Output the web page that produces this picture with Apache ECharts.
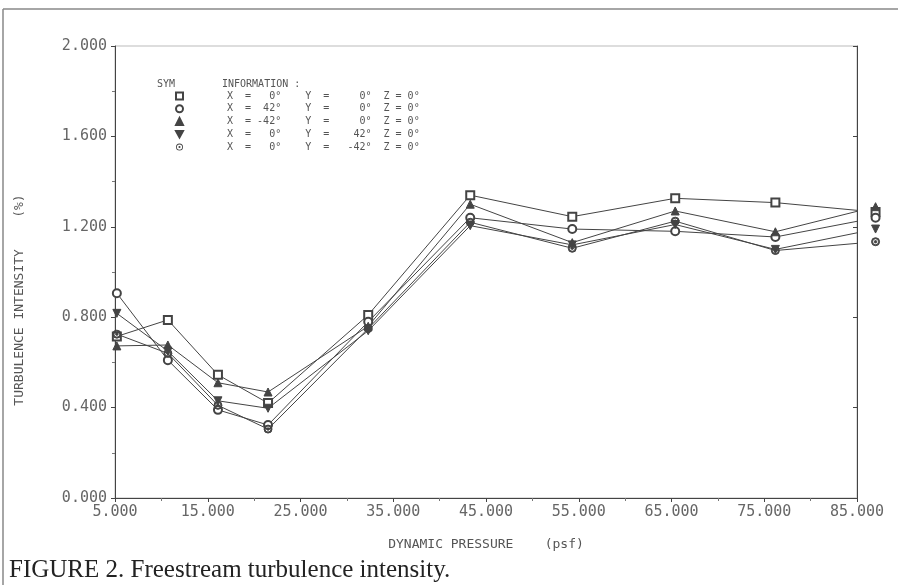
<!DOCTYPE html>
<html>
<head>
<meta charset="utf-8">
<script src="https://cdn.jsdelivr.net/npm/echarts@6/dist/echarts.min.js"></script>
<style>
  html, body { margin: 0; padding: 0; background: #fff; }
  #chart { width: 898px; height: 585px; }
</style>
</head>
<body>
<div id="chart"></div>
<script>
// dynamic pressure (psf) at each measuring point
const pressure = [5.2, 10.7, 16.1, 21.5, 32.3, 43.3, 54.3, 65.4, 76.2, 87.0];
// turbulence intensity (%) per probe position
const s00 = [0.715, 0.788, 0.545, 0.42, 0.81, 1.34, 1.245, 1.326, 1.307, 1.265];
const sXp42 = [0.906, 0.61, 0.39, 0.323, 0.78, 1.24, 1.19, 1.18, 1.155, 1.24];
const sXm42 = [0.673, 0.677, 0.51, 0.469, 0.76, 1.30, 1.13, 1.27, 1.178, 1.289];
const sYp42 = [0.817, 0.65, 0.43, 0.397, 0.74, 1.205, 1.12, 1.21, 1.10, 1.19];
const sYm42 = [0.725, 0.64, 0.41, 0.305, 0.75, 1.22, 1.105, 1.225, 1.095, 1.134];
const xTicks = [5, 15, 25, 35, 45, 55, 65, 75, 85];
const yTicks = [0, 0.4, 0.8, 1.2, 1.6, 2.0];

// legend rows "X = .. Y = .. Z = .."
const pad = (s, n) => (" ".repeat(n) + s).slice(-n);
const row = (x, y) => "X  = " + pad(x + "°", 4) + "    Y  =   " + pad(y + "°", 4) + "  Z = 0°";
const names = [row(0, 0), row(42, 0), row(-42, 0), row(0, 42), row(0, -42)];

const triDown = "path://M0,0 L10,0 L5,9 Z";
const circDot = "path://M0,-10 A10,10 0 1,1 0,10 A10,10 0 1,1 0,-10 Z M0,-7.5 A7.5,7.5 0 1,0 0,7.5 A7.5,7.5 0 1,0 0,-7.5 Z M0,-3 A3,3 0 1,1 0,3 A3,3 0 1,1 0,-3 Z";
const symbols = ["emptyRect", "emptyCircle", "triangle", triDown, circDot];
const values = [s00, sXp42, sXm42, sYp42, sYm42];

const mono = "DejaVu Sans Mono";
const ink = "#444";

let chart = echarts.init(document.getElementById("chart"));
chart.setOption({
  backgroundColor: "#fff",
  animation: false,
  title: {
    text: "FIGURE 2. Freestream turbulence intensity.",
    left: 4,
    top: 553,
    textStyle: { fontFamily: "Liberation Serif", fontSize: 25, fontWeight: "normal", color: "#222" },
  },
  legend: {
    orient: "vertical",
    left: 170,
    top: 86,
    itemWidth: 7,
    itemHeight: 7,
    itemGap: 2.75,
    data: names.map((n, i) => ({
      name: n,
      icon: symbols[i],
      itemStyle: i === 4 ? { borderWidth: 0 } : undefined,
    })),
    textStyle: { fontFamily: mono, fontSize: 10, lineHeight: 9, color: "#555", padding: [0, 0, 0, 39] },
    selectedMode: false,
  },
  graphic: [
    { type: "text", left: 157, top: 79, style: { text: "SYM", font: "10px " + mono, fill: "#555" } },
    { type: "text", left: 222, top: 79, style: { text: "INFORMATION :", font: "10px " + mono, fill: "#555" } },
    {
      type: "text",
      x: 20,
      y: 300,
      rotation: Math.PI / 2,
      style: {
        text: "TURBULENCE INTENSITY    (%)",
        font: "13px " + mono,
        fill: "#555",
        align: "center",
        verticalAlign: "middle",
      },
    },
    // figure frame
    { type: "line", shape: { x1: 3, y1: 9, x2: 898, y2: 9 }, style: { stroke: "#888", lineWidth: 1.5 } },
    { type: "line", shape: { x1: 3, y1: 9, x2: 3, y2: 585 }, style: { stroke: "#888", lineWidth: 1.5 } },
  ],
  grid: {
    left: 115,
    right: 41,
    top: 46,
    bottom: 87,
    show: true,
    borderColor: "#bbb",
    borderWidth: 1,
  },
  xAxis: {
    type: "value",
    min: xTicks[0],
    max: xTicks[xTicks.length - 1],
    interval: 10,
    name: "DYNAMIC PRESSURE    (psf)",
    nameLocation: "middle",
    nameGap: 40,
    nameTextStyle: { fontFamily: mono, fontSize: 13, color: "#555" },
    axisLine: { lineStyle: { color: ink } },
    axisTick: { length: 4, lineStyle: { color: ink } },
    minorTick: { show: true, splitNumber: 2, length: 3, lineStyle: { color: "#777" } },
    splitLine: { show: false },
    axisLabel: { formatter: (v) => v.toFixed(3), fontFamily: mono, fontSize: 15, color: "#666", margin: 7 },
  },
  yAxis: [
    {
      type: "value",
      min: yTicks[0],
      max: yTicks[yTicks.length - 1],
      interval: 0.4,
      axisLine: { show: true, lineStyle: { color: ink } },
      axisTick: { show: true, length: 4, lineStyle: { color: ink } },
      minorTick: { show: true, splitNumber: 2, length: 3, lineStyle: { color: "#777" } },
      splitLine: { show: false },
      axisLabel: { formatter: (v) => v.toFixed(3), fontFamily: mono, fontSize: 15, color: "#666", margin: 8 },
    },
    {
      type: "value",
      position: "right",
      min: yTicks[0],
      max: yTicks[yTicks.length - 1],
      interval: 0.4,
      axisLine: { show: true, lineStyle: { color: ink } },
      axisTick: { show: true, inside: true, length: 4, lineStyle: { color: ink } },
      axisLabel: { show: false },
      splitLine: { show: false },
    },
  ],
  series: values.map((vals, i) => ({
    name: names[i],
    type: "line",
    clip: false,
    symbol: symbols[i],
    symbolSize: 8,
    showAllSymbol: true,
    data: pressure.map((p, j) => [p, vals[j]]),
    lineStyle: { color: ink, width: 1 },
    itemStyle: { color: ink, borderColor: ink, borderWidth: 1 },
    emphasis: { disabled: true },
  })),
});
</script>
</body>
</html>
